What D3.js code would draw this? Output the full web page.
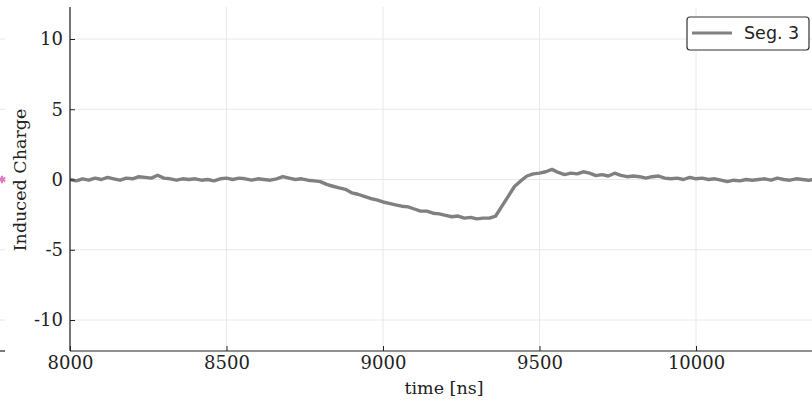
<!DOCTYPE html>
<html><head><meta charset="utf-8">
<script src="https://cdn.jsdelivr.net/npm/d3@7"></script>
<style>body{margin:0;background:#fff}svg{display:block}</style>
</head><body>
<svg id="c" width="812" height="401"></svg>
<script>
const t0 = 8000, dt = 20;
const charge = [
 0.0,-0.1,0.05,-0.05,0.1,0.0,0.15,0.05,-0.05,0.1,
 0.05,0.2,0.15,0.1,0.3,0.1,0.05,-0.05,0.05,0.0,
 0.05,-0.05,0.0,-0.1,0.05,0.1,0.0,0.1,0.05,-0.05,
 0.05,0.0,-0.05,0.05,0.2,0.1,0.0,0.05,-0.05,-0.1,
 -0.15,-0.35,-0.48,-0.6,-0.7,-0.95,-1.05,-1.2,-1.35,-1.45,
 -1.6,-1.7,-1.8,-1.9,-1.95,-2.1,-2.25,-2.25,-2.4,-2.45,
 -2.55,-2.65,-2.6,-2.75,-2.7,-2.8,-2.75,-2.75,-2.6,-1.9,
 -1.2,-0.5,-0.1,0.25,0.4,0.45,0.55,0.72,0.5,0.35,
 0.45,0.4,0.55,0.45,0.28,0.35,0.25,0.45,0.3,0.2,
 0.25,0.2,0.1,0.2,0.25,0.1,0.05,0.1,0.0,0.15,
 0.05,0.1,0.0,0.05,-0.05,-0.15,-0.05,-0.1,0.0,-0.05,
 0.0,0.05,-0.05,0.1,0.0,-0.05,0.05,0.0,-0.05,0.0,-0.05
];
const xTicks = [8000, 8500, 9000, 9500, 10000];
const yTicks = [-10, -5, 0, 5, 10];
const seriesName = "Seg. 3";
const xLabel = "time [ns]";
const yLabel = "Induced Charge";

const data = charge.map((v,i)=>({t:t0+i*dt, v}));
const svg = d3.select("#c");
const L = 70, T = 7, B = 351, R = 830;
const x = d3.scaleLinear().domain([8000,10000]).range([L, 696]);
const y = d3.scaleLinear().domain([-10,10]).range([320, 39]);
const serif = "'DejaVu Serif', serif";
const ink = "#222";

// left neighbour plot fragment
const lg = svg.append("g");
yTicks.forEach(d=>lg.append("line").attr("x1",0).attr("x2",5).attr("y1",y(d)).attr("y2",y(d)).attr("stroke","#e6e6e6"));
lg.append("line").attr("x1",0).attr("x2",5).attr("y1",B).attr("y2",B).attr("stroke",ink).attr("stroke-width",1.2);
lg.append("path").attr("transform",`translate(2,${y(0)})`).attr("d",d3.symbol(d3.symbolAsterisk,40)()).attr("stroke","#e377c2").attr("stroke-width",2).attr("fill","none");

// grid
const g = svg.append("g");
xTicks.forEach(d=>g.append("line").attr("x1",x(d)).attr("x2",x(d)).attr("y1",T).attr("y2",B).attr("stroke","#e8e8e8"));
yTicks.forEach(d=>g.append("line").attr("x1",L).attr("x2",R).attr("y1",y(d)).attr("y2",y(d)).attr("stroke","#e8e8e8"));

svg.append("defs").append("clipPath").attr("id","clip").append("rect").attr("x",L).attr("y",T).attr("width",R-L).attr("height",B-T);
svg.append("path").datum(data).attr("clip-path","url(#clip)")
  .attr("d", d3.line().x(d=>x(d.t)).y(d=>y(d.v)))
  .attr("fill","none").attr("stroke","#808080").attr("stroke-width",3.4).attr("stroke-linejoin","round");

// axes
const xa = svg.append("g").attr("transform",`translate(0,${B})`)
  .call(d3.axisBottom(x).tickValues(xTicks).tickSizeInner(-5).tickSizeOuter(0).tickPadding(5).tickFormat(d=>String(d)));
xa.select(".domain").attr("d",`M${L},0H${R}`).attr("stroke",ink).attr("stroke-width",1.2);
xa.selectAll("text").attr("font-family",serif).attr("font-size",18).attr("fill",ink);
xa.selectAll(".tick line").attr("stroke",ink);

const ya = svg.append("g").attr("transform",`translate(${L},0)`)
  .call(d3.axisLeft(y).tickValues(yTicks).tickSizeInner(-5).tickSizeOuter(0).tickPadding(7).tickFormat(d=>String(d)));
ya.select(".domain").attr("d",`M0,${T}V${B}`).attr("stroke",ink).attr("stroke-width",1.2);
ya.selectAll("text").attr("font-family",serif).attr("font-size",18).attr("fill",ink);
ya.selectAll(".tick line").attr("stroke",ink);

svg.append("text").attr("x",444).attr("y",394).attr("text-anchor","middle").attr("font-family",serif).attr("font-size",17.5).attr("fill",ink).text(xLabel);
svg.append("text").attr("transform",`translate(26,180) rotate(-90)`).attr("text-anchor","middle").attr("font-family",serif).attr("font-size",17.5).attr("fill",ink).text(yLabel);

// legend
const leg = svg.append("g");
leg.append("rect").attr("x",687).attr("y",17).attr("width",122).attr("height",33).attr("rx",3).attr("fill","#fff").attr("stroke","#333").attr("stroke-width",1.2);
leg.append("line").attr("x1",692).attr("x2",732).attr("y1",33).attr("y2",33).attr("stroke","#808080").attr("stroke-width",3);
leg.append("text").attr("x",744).attr("y",39).attr("font-family","'DejaVu Sans', sans-serif").attr("font-size",17.5).attr("fill",ink).text(seriesName);
</script>
</body></html>
